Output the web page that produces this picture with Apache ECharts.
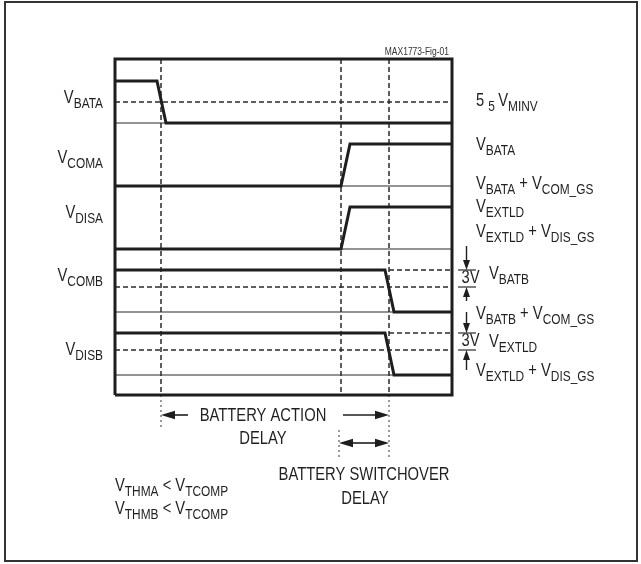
<!DOCTYPE html>
<html>
<head>
<meta charset="utf-8">
<script src="https://cdn.jsdelivr.net/npm/echarts@6/dist/echarts.min.js"></script>
<style>
html,body{margin:0;padding:0;background:#fff;}
#c{width:641px;height:564px;}
</style>
</head>
<body>
<div id="c"></div>
<script>
// ---------------- DATA (time units along x, level units along y) ----------------
const tEnd = 337;                 // end of the time window
const levelTop = 336;             // top of the diagram box
const cursorTimes = [46, 226, 274];   // dashed reference instants

// signal traces as [time, level]
const vBATA = [[0, 314], [42, 314], [51, 272], [337, 272]];
const vCOMA = [[0, 209], [226, 209], [235, 251], [337, 251]];
const vDISA = [[0, 146], [226, 146], [235, 188], [337, 188]];
const vCOMB = [[0, 125], [270, 125], [279, 83], [337, 83]];
const vDISB = [[0, 62], [270, 62], [279, 20], [337, 20]];

const baseLevels = [272, 209, 146, 83, 20];      // thin reference lines
const dashedLevels = [293, 108, 45];             // dashed thresholds, full width
const dashedLateLevels = [125, 62];              // dashed after last cursor

// dotted extensions below box: [time, fromLevel, toLevel]
const dottedExt = [[46, 0, -35], [274, 0, -63], [224, -35, -63]];

// delay arrows: [t1, level1, t2, level2, headAtStart, headAtEnd]
const delayArrows = [
  [46, -20, 73, -20, 1, 0],
  [228, -20, 274, -20, 0, 1],
  [224, -48, 274, -48, 1, 1]
];
// 3V markers
const markerT = [343, 361];                     // tick line extent
const markerLevels = [125, 108, 62, 45];
const markerArrows = [
  [351.5, 149, 351.5, 125, 0, 1],
  [351.5, 94, 351.5, 108, 0, 1],
  [351.5, 83, 351.5, 62, 0, 1],
  [351.5, 25, 351.5, 45, 0, 1]
];

// ---------------- STYLE ----------------
const INK = '#1e1e1e';
const TXT = '#231f20';
const FONT = '"Liberation Sans", Arial, sans-serif';
const SX = 0.82;
const MAIN = 18, SUB = 14.5, SUB_DY = 5.5;

const mctx = document.createElement('canvas').getContext('2d');
function measure(t, size) { mctx.font = size + 'px ' + FONT; return mctx.measureText(t).width; }

function label(pieces, x, y, anchor, opts) {
  opts = opts || {};
  const mainSize = opts.main || MAIN, subSize = opts.sub || SUB, sx = opts.sx || SX;
  let cx = 0; const children = [];
  pieces.forEach(p => {
    const t = p[0], sub = p[1];
    const size = sub ? subSize : mainSize;
    children.push({
      type: 'text', x: cx, y: sub ? SUB_DY : 0,
      style: { text: t, fontSize: size, fontFamily: FONT, fill: opts.color || TXT,
               align: 'left', textAlign: 'left', verticalAlign: 'middle', textVerticalAlign: 'middle' }
    });
    cx += measure(t, size);
  });
  const w = cx * sx;
  const gx = anchor === 'right' ? x - w : anchor === 'center' ? x - w / 2 : x;
  return { type: 'group', x: gx, y: y, scaleX: sx, children: children, silent: true };
}

function lineSeries(pts, width, color, dash, z) {
  return { type: 'line', data: pts, symbol: 'none', silent: true, animation: false, z: z || 2,
           lineStyle: { width: width, color: color, type: dash || 'solid', cap: 'butt', join: 'miter' } };
}

function arrowRender(headLen, headHalf, lw, color) {
  return function (params, api) {
    const a = api.coord([api.value(0), api.value(1)]);
    const b = api.coord([api.value(2), api.value(3)]);
    const hs = api.value(4), he = api.value(5);
    const dx = b[0] - a[0], dy = b[1] - a[1], L = Math.hypot(dx, dy);
    const ux = dx / L, uy = dy / L, px = -uy, py = ux;
    const s = hs ? [a[0] + ux * headLen * 0.8, a[1] + uy * headLen * 0.8] : a;
    const e = he ? [b[0] - ux * headLen * 0.8, b[1] - uy * headLen * 0.8] : b;
    const children = [{ type: 'line', shape: { x1: s[0], y1: s[1], x2: e[0], y2: e[1] },
                        style: { stroke: color, lineWidth: lw } }];
    function head(tip, ddx, ddy) {
      const bx = tip[0] - ddx * headLen, by = tip[1] - ddy * headLen;
      return { type: 'polygon', shape: { points: [tip, [bx + px * headHalf, by + py * headHalf], [bx - px * headHalf, by - py * headHalf]] },
               style: { fill: color } };
    }
    if (hs) children.push(head(a, -ux, -uy));
    if (he) children.push(head(b, ux, uy));
    return { type: 'group', children: children };
  };
}

// ---------------- SERIES ----------------
const series = [];
baseLevels.forEach(l => series.push(lineSeries([[0, l], [tEnd, l]], 1.2, '#2a2a2a', 'solid', 2)));
dashedLevels.forEach(l => series.push(lineSeries([[0, l], [tEnd, l]], 1.4, '#2a2a2a', [5, 3], 2)));
dashedLateLevels.forEach(l => series.push(lineSeries([[cursorTimes[2], l], [tEnd, l]], 1.4, '#2a2a2a', [5, 3], 2)));
cursorTimes.forEach(t => series.push(lineSeries([[t, levelTop], [t, 0]], 1.5, '#2a2a2a', [5, 3], 2)));
dottedExt.forEach(d => series.push(lineSeries([[d[0], d[1]], [d[0], d[2]]], 1.5, '#7a7a7a', [2, 3], 2)));
[vBATA, vCOMA, vDISA, vCOMB, vDISB].forEach(s => series.push(lineSeries(s, 3, INK, 'solid', 5)));
// box
series.push(lineSeries([[0, 0], [tEnd, 0], [tEnd, levelTop], [0, levelTop], [0, 0]], 3, INK, 'solid', 6));
// 3V tick lines
markerLevels.forEach(l => series.push(lineSeries([[markerT[0], l], [markerT[1], l]], 1.5, '#555', 'solid', 3)));
series.push({ type: 'custom', data: delayArrows, renderItem: arrowRender(14, 4.3, 1.6, INK),
              encode: { x: [0, 2], y: [1, 3] }, silent: true, animation: false, z: 7 });
series.push({ type: 'custom', data: markerArrows, renderItem: arrowRender(10, 3.5, 1.4, INK),
              encode: { x: [0, 2], y: [1, 3] }, silent: true, animation: false, z: 7 });

// ---------------- TEXT ----------------
const texts = [
  // left signal names
  label([['V', 0], ['BATA', 1]], 103, 98, 'right'),
  label([['V', 0], ['COMA', 1]], 103, 158, 'right'),
  label([['V', 0], ['DISA', 1]], 103, 213, 'right'),
  label([['V', 0], ['COMB', 1]], 103, 276, 'right'),
  label([['V', 0], ['DISB', 1]], 103, 350, 'right'),
  // right level names
  label([['5 ', 0], ['5 ', 1], ['V', 0], ['MINV', 1]], 476, 101, 'left'),
  label([['V', 0], ['BATA', 1]], 476, 145, 'left'),
  label([['V', 0], ['BATA', 1], [' + V', 0], ['COM_GS', 1]], 476, 184, 'left'),
  label([['V', 0], ['EXTLD', 1]], 476, 207, 'left'),
  label([['V', 0], ['EXTLD', 1], [' + V', 0], ['DIS_GS', 1]], 476, 232, 'left'),
  label([['3V', 0]], 461.5, 278, 'left'),
  label([['V', 0], ['BATB', 1]], 489, 274, 'left'),
  label([['V', 0], ['BATB', 1], [' + V', 0], ['COM_GS', 1]], 476, 314, 'left'),
  label([['3V', 0]], 461.5, 341.5, 'left'),
  label([['V', 0], ['EXTLD', 1]], 489, 342, 'left'),
  label([['V', 0], ['EXTLD', 1], [' + V', 0], ['DIS_GS', 1]], 476, 371, 'left'),
  // delays
  label([['BATTERY ACTION', 0]], 263, 416, 'center'),
  label([['DELAY', 0]], 263, 439, 'center'),
  label([['BATTERY SWITCHOVER', 0]], 364, 475.5, 'center'),
  label([['DELAY', 0]], 365, 499, 'center'),
  // conditions
  label([['V', 0], ['THMA', 1], [' < V', 0], ['TCOMP', 1]], 115, 486.5, 'left'),
  label([['V', 0], ['THMB', 1], [' < V', 0], ['TCOMP', 1]], 115, 509, 'left'),
  // figure id
  label([['MAX1773-Fig-01', 0]], 449, 52, 'right', { main: 10, sx: 0.85, color: '#333' })
];

const chart = echarts.init(document.getElementById('c'), null, { renderer: 'canvas' });
chart.setOption({
  animation: false,
  backgroundColor: '#fff',
  grid: { left: 0, right: 0, top: 0, bottom: 0, containLabel: false },
  xAxis: { type: 'value', min: -115, max: 526, show: false },
  yAxis: { type: 'value', min: -169, max: 395, show: false },
  series: series,
  graphic: [
    { type: 'rect', shape: { x: 5, y: 2, width: 632, height: 559 }, style: { fill: 'none', stroke: '#333', lineWidth: 2 }, silent: true, z: 0 }
  ].concat(texts)
});
</script>
</body>
</html>
